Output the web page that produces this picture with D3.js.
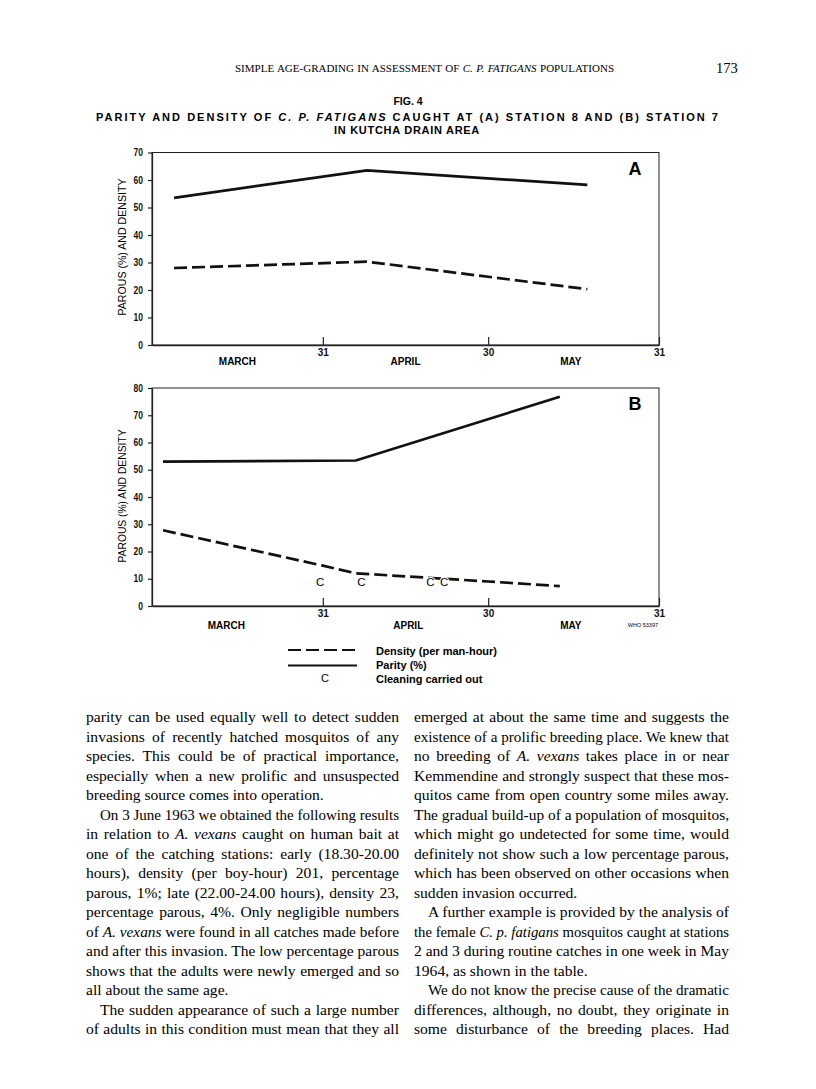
<!DOCTYPE html>
<html>
<head>
<meta charset="utf-8">
<script src="https://cdn.jsdelivr.net/npm/d3@7"></script>
<style>
  body { margin: 0; background: #fff; }
  svg { display: block; }
</style>
</head>
<body>
<div id="page"></div>
<script>
// ---- data (x = day counted from end of February) ----
var xTickDays = [31, 61, 92];
var xTickLabels = ["31", "30", "31"];
var months = ["MARCH", "APRIL", "MAY"];
var monthDaysA = [15.5, 46, 76];
var monthDaysB = [13.5, 46.5, 76];

var daysA = [4, 39, 79];
var parityA = [53.5, 63.5, 58.2];
var densityA = [28, 30.3, 20.3];

var parityDaysB = [2, 37, 74];
var parityB = [53, 53.4, 76.8];
var densityDaysB = [2, 31, 37, 53, 61, 74];
var densityB = [27.8, 14.8, 12, 10, 9, 7.3];
var cleaningDays = [30.5, 38, 50.5, 53];
var cleaningLevel = 8.8;

var yTicksA = [0, 10, 20, 30, 40, 50, 60, 70];
var yTicksB = [0, 10, 20, 30, 40, 50, 60, 70, 80];

var legendLabels = ["Density (per man-hour)", "Parity (%)", "Cleaning carried out"];

// [text, indented, justified]
var leftCol = [
  ["parity can be used equally well to detect sudden", 0, 1],
  ["invasions of recently hatched mosquitos of any", 0, 1],
  ["species. This could be of practical importance,", 0, 1],
  ["especially when a new prolific and unsuspected", 0, 1],
  ["breeding source comes into operation.", 0, 0],
  ["On 3 June 1963 we obtained the following results", 1, 1],
  ["in relation to *A. vexans* caught on human bait at", 0, 1],
  ["one of the catching stations: early (18.30-20.00", 0, 1],
  ["hours), density (per boy-hour) 201, percentage", 0, 1],
  ["parous, 1%; late (22.00-24.00 hours), density 23,", 0, 1],
  ["percentage parous, 4%. Only negligible numbers", 0, 1],
  ["of *A. vexans* were found in all catches made before", 0, 1],
  ["and after this invasion. The low percentage parous", 0, 1],
  ["shows that the adults were newly emerged and so", 0, 1],
  ["all about the same age.", 0, 0],
  ["The sudden appearance of such a large number", 1, 1],
  ["of adults in this condition must mean that they all", 0, 1]
];
var rightCol = [
  ["emerged at about the same time and suggests the", 0, 1],
  ["existence of a prolific breeding place. We knew that", 0, 1],
  ["no breeding of *A. vexans* takes place in or near", 0, 1],
  ["Kemmendine and strongly suspect that these mos-", 0, 1],
  ["quitos came from open country some miles away.", 0, 1],
  ["The gradual build-up of a population of mosquitos,", 0, 1],
  ["which might go undetected for some time, would", 0, 1],
  ["definitely not show such a low percentage parous,", 0, 1],
  ["which has been observed on other occasions when", 0, 1],
  ["sudden invasion occurred.", 0, 0],
  ["A further example is provided by the analysis of", 1, 1],
  ["the female *C. p. fatigans* mosquitos caught at stations", 0, 1],
  ["2 and 3 during routine catches in one week in May", 0, 1],
  ["1964, as shown in the table.", 0, 0],
  ["We do not know the precise cause of the dramatic", 1, 1],
  ["differences, although, no doubt, they originate in", 0, 1],
  ["some disturbance of the breeding places. Had", 0, 1]
];

var W = 816, H = 1089;
var sans = "'Liberation Sans', Arial, sans-serif";
var serif = "'Liberation Serif', 'Times New Roman', serif";

var svg = d3.select("#page").append("svg")
  .attr("width", W).attr("height", H);
svg.append("rect").attr("width", W).attr("height", H).attr("fill", "#fff");

// text with *italic* parts
function richText(g, str) {
  str.split("*").forEach(function (s, i) {
    if (s.length) g.append("tspan").attr("font-style", i % 2 ? "italic" : null).text(s);
  });
}

// stretch a line to a width by widening the word gaps (squeeze if too long)
function justify(t, str, width) {
  var nat = t.node().getComputedTextLength();
  var gaps = str.split(" ").length - 1;
  if (nat > width) {
    t.attr("textLength", width).attr("lengthAdjust", "spacingAndGlyphs");
  } else if (gaps > 0) {
    t.attr("word-spacing", (width - nat) / gaps);
  }
}

// ---- page header ----
var head = svg.append("text").attr("x", 235).attr("y", 72)
  .attr("font-family", serif).attr("font-size", 11);
richText(head, "SIMPLE AGE-GRADING IN ASSESSMENT OF *C. P. FATIGANS* POPULATIONS");
justify(head, "SIMPLE AGE-GRADING IN ASSESSMENT OF C. P. FATIGANS POPULATIONS", 379);
svg.append("text").attr("x", 716).attr("y", 73)
  .attr("font-family", serif).attr("font-size", 14.5).text("173");

svg.append("text").attr("x", 408).attr("y", 105).attr("text-anchor", "middle")
  .attr("font-family", sans).attr("font-weight", "bold").attr("font-size", 10.5)
  .text("FIG. 4");
var t1 = svg.append("text").attr("x", 96).attr("y", 121)
  .attr("font-family", sans).attr("font-weight", "bold").attr("font-size", 11);
richText(t1, "PARITY AND DENSITY OF *C. P. FATIGANS* CAUGHT AT (A) STATION 8 AND (B) STATION 7");
var nat1 = t1.node().getComputedTextLength();
var ls = (622 - nat1) / 77;
t1.attr("letter-spacing", ls);
var t2 = svg.append("text").attr("y", 134)
  .attr("font-family", sans).attr("font-weight", "bold").attr("font-size", 11)
  .attr("letter-spacing", ls * 0.35)
  .text("IN KUTCHA DRAIN AREA");
t2.attr("x", 407 - t2.node().getComputedTextLength() / 2);

// ---- panels ----
var x = d3.scaleLinear().domain([0, 92]).range([152, 659]);

function panel(cfg) {
  var y = d3.scaleLinear().domain([0, cfg.yMax]).range([cfg.bottom, cfg.top]);
  var g = svg.append("g");

  g.append("rect")
    .attr("x", x(0)).attr("y", y(cfg.yMax))
    .attr("width", x(92) - x(0)).attr("height", y(0) - y(cfg.yMax))
    .attr("fill", "none").attr("stroke", "#222").attr("stroke-width", 1);

  var ya = g.append("g").attr("transform", "translate(" + x(0) + ",0)")
    .call(d3.axisLeft(y).tickValues(cfg.yTicks).tickSizeInner(4).tickSizeOuter(0).tickPadding(5));
  var xa = g.append("g").attr("transform", "translate(0," + y(0) + ")")
    .call(d3.axisBottom(x).tickValues(xTickDays).tickFormat(function (d, i) { return xTickLabels[i]; })
      .tickSizeInner(-8).tickSizeOuter(0).tickPadding(6));
  [ya, xa].forEach(function (a) {
    a.selectAll("path").attr("stroke", "#222").attr("stroke-width", 1.3);
    a.selectAll("line").attr("stroke", "#222").attr("stroke-width", 1.2);
    a.selectAll("text").attr("font-family", sans).attr("font-weight", "bold")
      .attr("font-size", 10).attr("fill", "#111");
  });
  ya.selectAll(".tick text").attr("transform", "scale(0.85,1)")
    .attr("x", -9 / 0.85);
  xa.selectAll(".tick text").attr("dy", "0.2em").attr("y", cfg.numDy);

  g.selectAll(".month").data(months).enter().append("text")
    .attr("x", function (d, i) { return x(cfg.monthDays[i]); })
    .attr("y", y(0) + cfg.monthDy)
    .attr("text-anchor", "middle")
    .attr("font-family", sans).attr("font-weight", "bold").attr("font-size", 10)
    .text(function (d) { return d; });

  g.append("text")
    .attr("transform", "translate(" + 126 + "," + cfg.labelY + ") rotate(-90)")
    .attr("text-anchor", "middle")
    .attr("font-family", sans).attr("font-size", 11.5)
    .attr("textLength", cfg.labelLen).attr("lengthAdjust", "spacingAndGlyphs")
    .text("PAROUS (%) AND DENSITY");

  var line = d3.line().x(function (d) { return x(d[0]); }).y(function (d) { return y(d[1]); });
  g.append("path").datum(d3.zip(cfg.densDays, cfg.dens))
    .attr("d", line).attr("fill", "none").attr("stroke", "#111")
    .attr("stroke-width", 2.7).attr("stroke-dasharray", "13,5");
  g.append("path").datum(d3.zip(cfg.parDays, cfg.par))
    .attr("d", line).attr("fill", "none").attr("stroke", "#111")
    .attr("stroke-width", 2.7);

  g.append("text").attr("x", 635).attr("y", y(cfg.yMax) + 22)
    .attr("text-anchor", "middle")
    .attr("font-family", sans).attr("font-weight", "bold").attr("font-size", 18)
    .text(cfg.letter);
  return {g: g, y: y};
}

panel({
  top: 152.5, bottom: 345, yMax: 70, yTicks: yTicksA, letter: "A",
  monthDays: monthDaysA, numDy: 9, monthDy: 20, labelY: 247, labelLen: 137,
  densDays: daysA, dens: densityA, parDays: daysA, par: parityA
});

var pB = panel({
  top: 388, bottom: 606, yMax: 80, yTicks: yTicksB, letter: "B",
  monthDays: monthDaysB, numDy: 9, monthDy: 23, labelY: 496, labelLen: 133,
  densDays: densityDaysB, dens: densityB, parDays: parityDaysB, par: parityB
});

pB.g.selectAll(".clean").data(cleaningDays).enter().append("text")
  .attr("x", function (d) { return x(d); })
  .attr("y", pB.y(cleaningLevel))
  .attr("dy", "0.36em")
  .attr("text-anchor", "middle")
  .attr("font-family", sans).attr("font-size", 11.5)
  .attr("stroke", "#fff").attr("stroke-width", 2).attr("paint-order", "stroke")
  .text("C");

svg.append("text").attr("x", 658).attr("y", 627).attr("text-anchor", "end")
  .attr("font-family", sans).attr("font-size", 5.5).text("WHO 53397");

// ---- legend ----
var lg = svg.append("g");
lg.append("line").attr("x1", 288).attr("x2", 357).attr("y1", 650).attr("y2", 650)
  .attr("stroke", "#111").attr("stroke-width", 2).attr("stroke-dasharray", "13,5");
lg.append("line").attr("x1", 288).attr("x2", 357).attr("y1", 665.5).attr("y2", 665.5)
  .attr("stroke", "#111").attr("stroke-width", 2);
lg.append("text").attr("x", 325).attr("y", 682).attr("text-anchor", "middle")
  .attr("font-family", sans).attr("font-size", 11).text("C");
lg.selectAll(".lt").data(legendLabels).enter().append("text")
  .attr("x", 376).attr("y", function (d, i) { return 654.5 + i * 14; })
  .attr("font-family", sans).attr("font-weight", "bold").attr("font-size", 11)
  .text(function (d) { return d; });

// ---- body text ----
function column(lines, x0, width) {
  lines.forEach(function (l, i) {
    var ind = l[1] ? 14 : 0;
    var t = svg.append("text").attr("x", x0 + ind).attr("y", 722 + i * 19.5)
      .attr("font-family", serif).attr("font-size", 15.6).attr("fill", "#000");
    richText(t, l[0]);
    if (l[2]) justify(t, l[0].replace(/\*/g, ""), width - ind);
  });
}
column(leftCol, 86, 313);
column(rightCol, 414, 315);
</script>
</body>
</html>
